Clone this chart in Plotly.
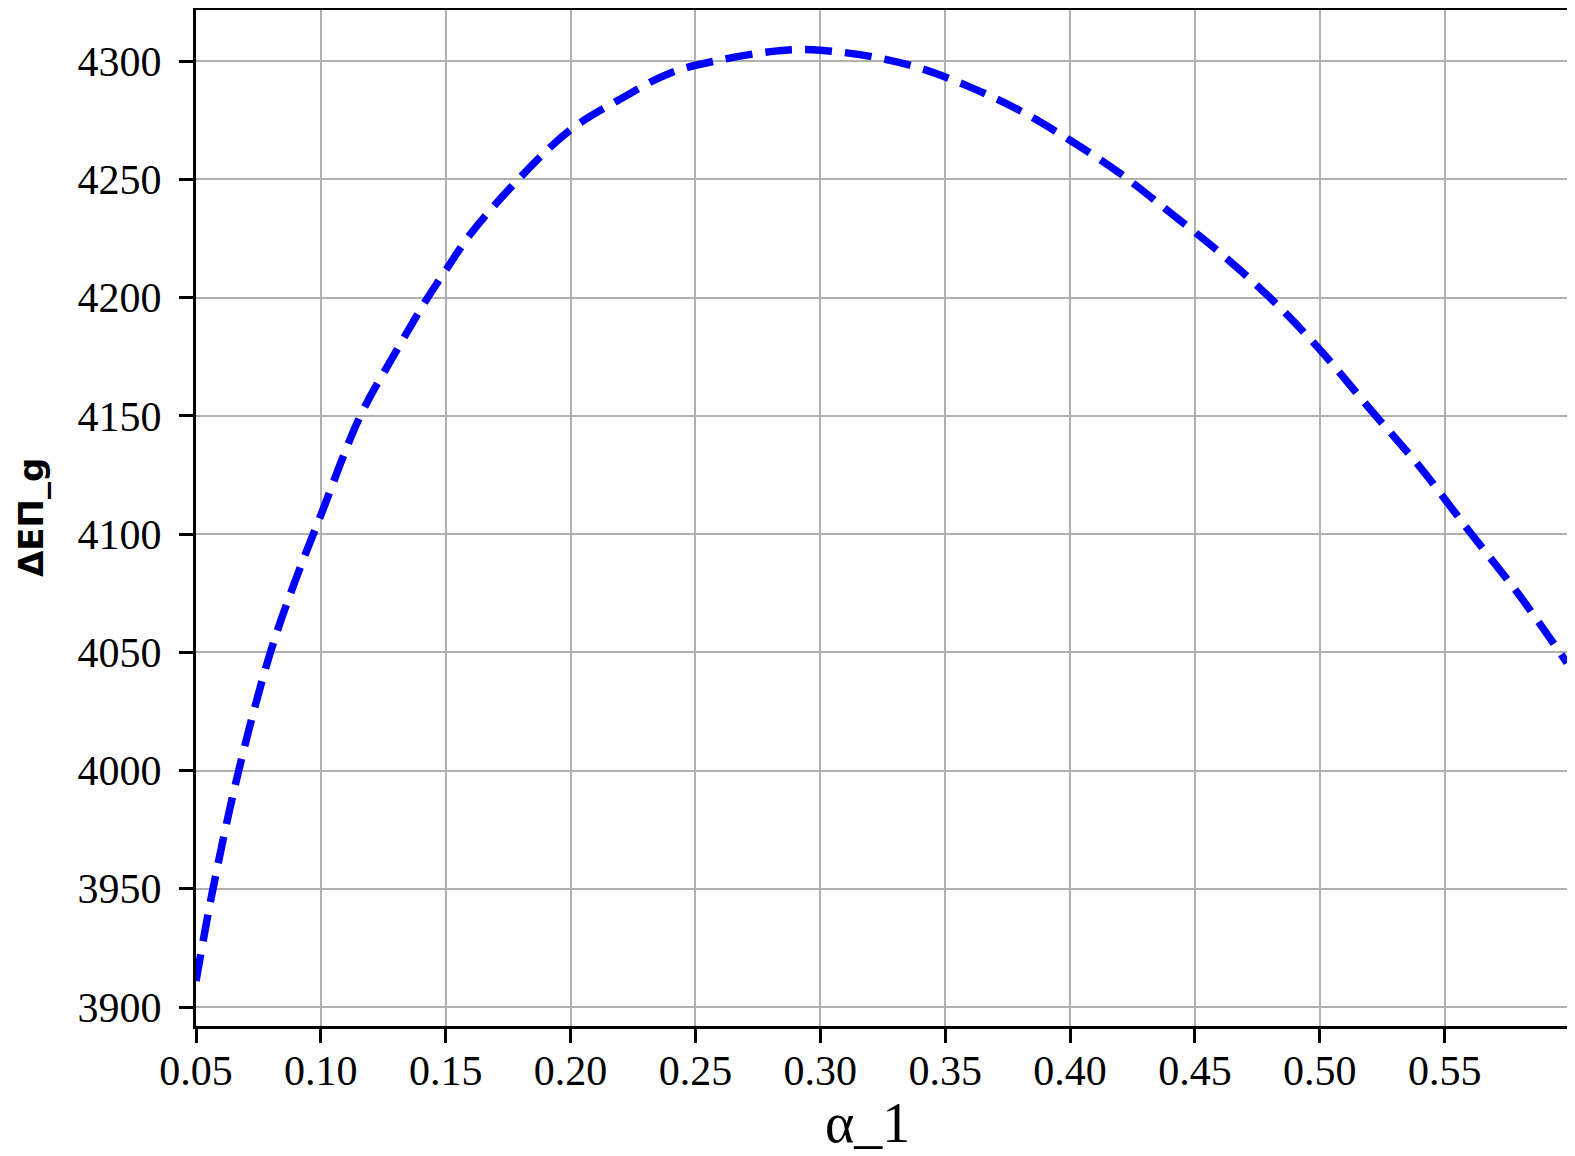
import plotly.graph_objects as go

# Values
alpha_1 = [0.05, 0.0568, 0.0671, 0.0798, 0.09, 0.10, 0.1158, 0.13, 0.1425, 0.15,
           0.16, 0.18, 0.20, 0.22, 0.24, 0.26, 0.28, 0.29, 0.30, 0.32,
           0.34, 0.36, 0.38, 0.40, 0.42, 0.44, 0.46, 0.48, 0.50, 0.52,
           0.54, 0.56, 0.58, 0.599]
delta_EP_g = [3911, 3950, 4000, 4050, 4081, 4108, 4150, 4177, 4199.5, 4211.5,
              4227, 4251, 4271, 4284, 4295, 4300.5, 4304, 4304.8, 4304.6, 4302,
              4297, 4289, 4279, 4266.5, 4252.5, 4236, 4219, 4200, 4178, 4153,
              4128.5, 4101, 4074, 4045.5]

x_ticks = [0.05, 0.10, 0.15, 0.20, 0.25, 0.30, 0.35, 0.40, 0.45, 0.50, 0.55]
x_tick_labels = ["0.05", "0.10", "0.15", "0.20", "0.25", "0.30", "0.35", "0.40", "0.45", "0.50", "0.55"]
y_ticks = [3900, 3950, 4000, 4050, 4100, 4150, 4200, 4250, 4300]
y_tick_labels = ["3900", "3950", "4000", "4050", "4100", "4150", "4200", "4250", "4300"]
x_title = "α_1"
y_title = "ΔEΠ_g"

fig = go.Figure()
fig.add_trace(go.Scatter(
    x=alpha_1, y=delta_EP_g, mode="lines",
    line=dict(color="#0000ff", width=7.5, dash="27px,13px", shape="spline", smoothing=1.0),
    showlegend=False, hoverinfo="skip",
))

serif = "Liberation Serif, Times New Roman, serif"
fig.update_layout(
    width=1567, height=1148,
    margin=dict(l=188, r=8, t=2, b=130, autoexpand=False),
    paper_bgcolor="white", plot_bgcolor="white",
    font=dict(family=serif, color="black"),
)
fig.update_xaxes(
    range=[0.05, 0.599], tickmode="array", tickvals=x_ticks, ticktext=x_tick_labels,
    tickfont=dict(family=serif, size=42, color="black"), ticklabelstandoff=-8,
    ticks="outside", ticklen=14, tickwidth=2.5, tickcolor="black",
    showgrid=True, gridcolor="#b0b0b0", gridwidth=2,
    showline=True, linecolor="black", linewidth=3, mirror=True,
    zeroline=False, automargin=False,
)
fig.update_yaxes(
    range=[3891.97, 4321.6], tickmode="array", tickvals=y_ticks, ticktext=y_tick_labels,
    tickfont=dict(family=serif, size=42, color="black"), ticklabelstandoff=9,
    ticks="outside", ticklen=14, tickwidth=2.5, tickcolor="black",
    showgrid=True, gridcolor="#b0b0b0", gridwidth=2,
    showline=True, linecolor="black", linewidth=3, mirror=True,
    zeroline=False, automargin=False,
)
fig.add_annotation(
    text=x_title, xref="paper", yref="paper", x=0.5, y=0,
    xanchor="center", yanchor="top", xshift=-14, yshift=-64, showarrow=False,
    font=dict(family=serif, size=56, color="black"),
)
fig.add_annotation(
    text=y_title, xref="paper", yref="paper", x=0, y=0.5, textangle=-90,
    xanchor="center", yanchor="middle", xshift=-165, showarrow=False,
    font=dict(family="DejaVu Sans, sans-serif", size=34, color="black", weight="bold"),
)

fig.write_html("out.html")
